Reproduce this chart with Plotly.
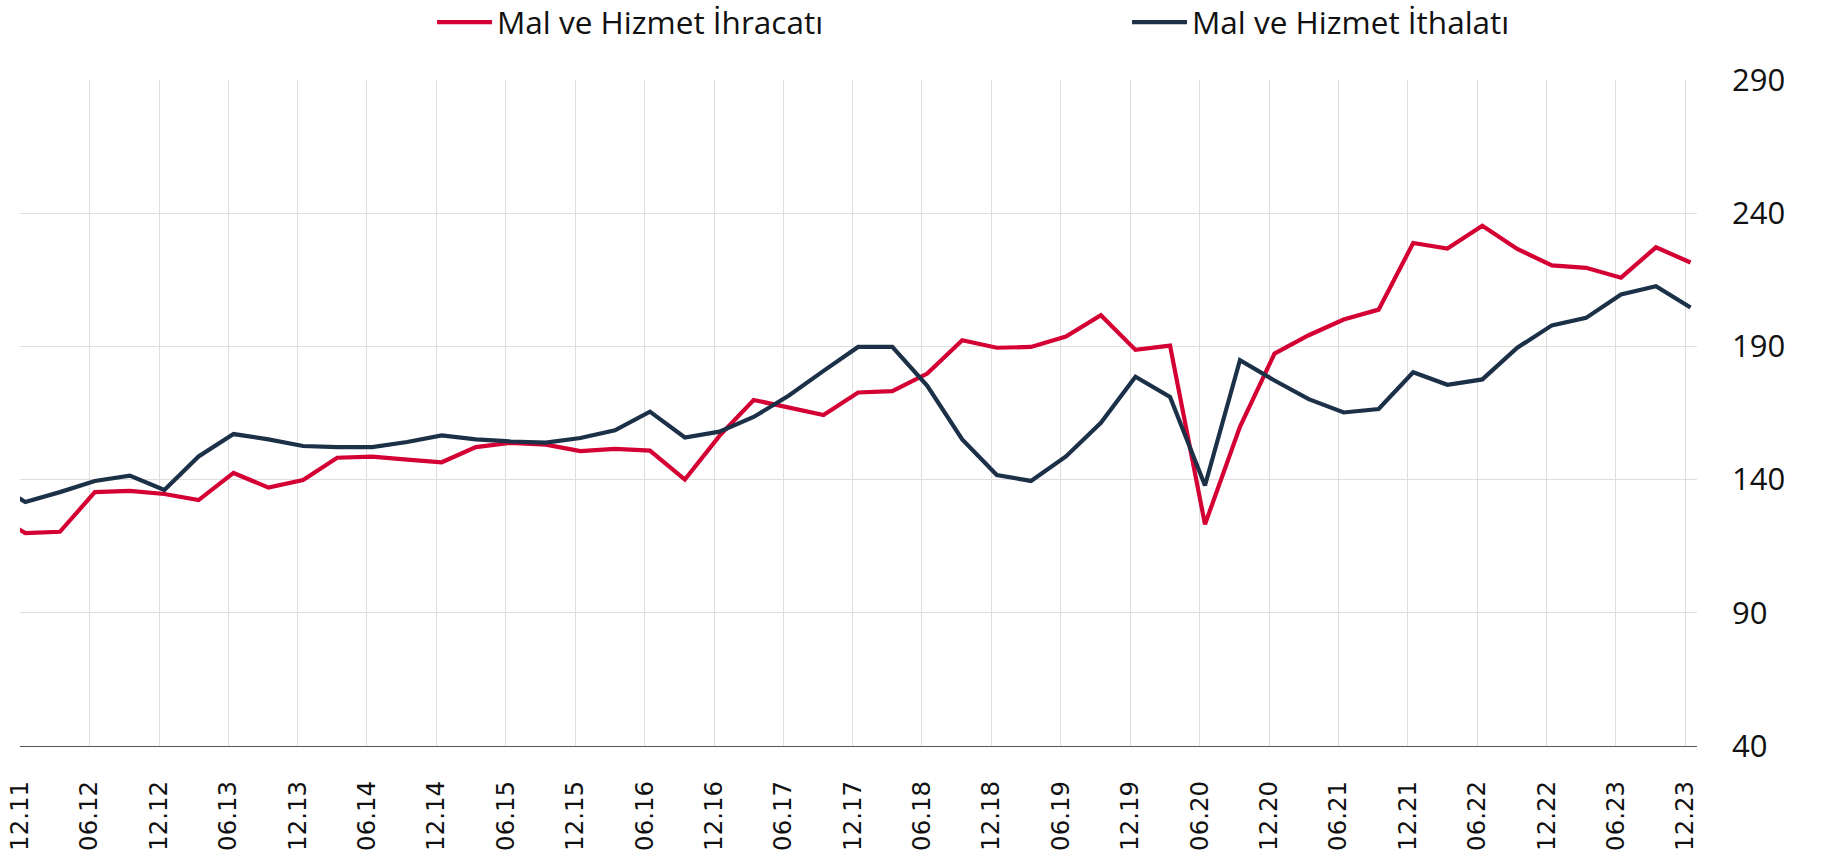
import plotly.graph_objects as go

# Quarter-end periods (MM.YY), one observation per quarter
periods = [
    "09.11",
    "12.11", "03.12", "06.12", "09.12", "12.12", "03.13", "06.13", "09.13",
    "12.13", "03.14", "06.14", "09.14", "12.14", "03.15", "06.15", "09.15",
    "12.15", "03.16", "06.16", "09.16", "12.16", "03.17", "06.17", "09.17",
    "12.17", "03.18", "06.18", "09.18", "12.18", "03.19", "06.19", "09.19",
    "12.19", "03.20", "06.20", "09.20", "12.20", "03.21", "06.21", "09.21",
    "12.21", "03.22", "06.22", "09.22", "12.22", "03.23", "06.23", "09.23",
    "12.23",
]

ihracat = [
    127.8,
    119.9, 120.4, 135.3, 135.8, 134.6, 132.3, 142.5, 137.0,
    139.8, 148.2, 148.6, 147.5, 146.5, 152.2, 153.8, 153.1,
    150.7, 151.5, 150.9, 140.0, 156.4, 169.9, 167.2, 164.2,
    172.7, 173.2, 179.8, 192.3, 189.5, 189.8, 193.7, 201.7,
    188.7, 190.3, 123.2, 159.8, 187.3, 194.2, 200.1, 203.8,
    228.8, 226.7, 235.3, 226.6, 220.4, 219.5, 215.8, 227.2,
    221.5,
]

ithalat = [
    139.5,
    131.6, 135.3, 139.5, 141.5, 136.1, 148.7, 157.1, 155.1,
    152.6, 152.2, 152.2, 154.1, 156.6, 155.1, 154.3, 153.9,
    155.6, 158.5, 165.5, 155.8, 158.0, 163.5, 171.5, 180.8,
    189.8, 189.8, 175.2, 155.1, 141.7, 139.5, 148.7, 161.3,
    178.6, 171.0, 137.8, 184.8, 177.2, 170.2, 165.2, 166.5,
    180.3, 175.6, 177.6, 189.5, 197.9, 200.7, 209.5, 212.6,
    204.6,
]

tick_labels = [
    "12.11", "06.12", "12.12", "06.13", "12.13", "06.14", "12.14",
    "06.15", "12.15", "06.16", "12.16", "06.17", "12.17", "06.18",
    "12.18", "06.19", "12.19", "06.20", "12.20", "06.21", "12.21",
    "06.22", "12.22", "06.23", "12.23",
]
y_ticks = [40, 90, 140, 190, 240, 290]


def mid_month(label):
    mm, yy = label.split(".")
    return f"20{yy}-{mm}-15"


def month_start(label):
    mm, yy = label.split(".")
    return f"20{yy}-{mm}-01"


x_dates = [mid_month(p) for p in periods]
tick_dates = [month_start(t) for t in tick_labels]

RED = "#d40034"
NAVY = "#1c3048"

fig = go.Figure()
fig.add_trace(go.Scatter(
    x=x_dates, y=ihracat, mode="lines", name="Mal ve Hizmet İhracatı",
    line=dict(color=RED, width=4.2),
))
fig.add_trace(go.Scatter(
    x=x_dates, y=ithalat, mode="lines", name="Mal ve Hizmet İthalatı",
    line=dict(color=NAVY, width=4.2),
))

fig.update_layout(
    width=1831, height=855,
    autosize=False,
    margin=dict(l=20, r=134, t=80, b=109, autoexpand=False),
    paper_bgcolor="white",
    plot_bgcolor="white",
    showlegend=True,
    legend=dict(
        orientation="h",
        xref="paper", yref="paper",
        x=0.2457, y=1.087, xanchor="left", yanchor="middle",
        font=dict(family="Open Sans", size=31.5, color="#111111"),
        itemwidth=55,
        entrywidth=625, entrywidthmode="pixels",
        bgcolor="rgba(0,0,0,0)",
    ),
    hovermode="x unified",
)

fig.update_xaxes(
    type="date",
    range=["2011-12-01", "2024-01-01"],
    tickmode="array",
    tickvals=tick_dates,
    ticktext=tick_labels,
    tickangle=-90,
    tickfont=dict(family="DejaVu Sans", size=24.5, color="#111111"),
    ticklabelstandoff=24,
    showgrid=True,
    gridcolor="#dedede",
    gridwidth=1,
    showline=True,
    linecolor="#555555",
    linewidth=1,
    ticks="",
    zeroline=False,
)

fig.update_yaxes(
    side="right",
    range=[40, 290],
    tickmode="array",
    tickvals=y_ticks,
    tickfont=dict(family="Open Sans", size=31, color="#111111"),
    ticklabelstandoff=34,
    showgrid=True,
    gridcolor="#dedede",
    gridwidth=1,
    showline=False,
    ticks="",
    zeroline=False,
)

fig.write_html("out.html")
